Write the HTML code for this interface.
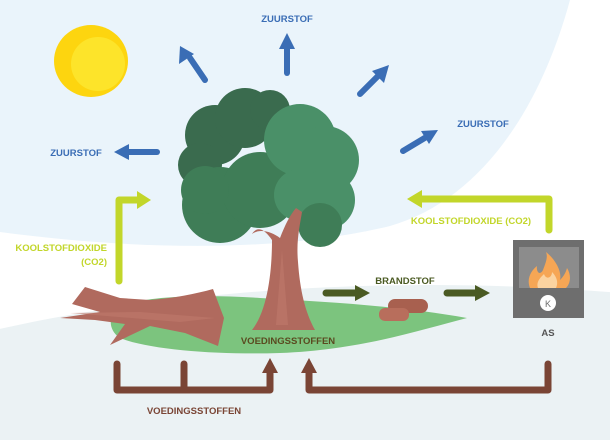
<!DOCTYPE html>
<html><head><meta charset="utf-8"><style>
html,body{margin:0;padding:0;background:#fff;width:610px;height:440px;overflow:hidden}
svg{display:block;position:absolute;left:0;top:0}
text{font-family:"Liberation Sans",sans-serif;font-weight:bold;font-size:9.5px}
</style></head><body>
<svg width="610" height="440" viewBox="0 0 610 440">
<rect width="610" height="440" fill="#ffffff"/>
<path d="M0,0 L570,0 C540,110 480,200 390,226 C270,255 120,248 0,232 Z" fill="#eaf4fb"/>
<ellipse cx="430" cy="565" rx="800" ry="280" fill="#ebf2f4"/>
<!-- sun -->
<ellipse cx="91" cy="61" rx="37" ry="36" fill="#fdd50f"/>
<ellipse cx="98" cy="64" rx="27" ry="27" fill="#fde42a"/>
<!-- grass -->
<path d="M118,308 C140,296 200,294 260,298 C330,302 400,306 467,318 C420,330 360,350 280,353 C220,355 150,350 120,338 C108,330 108,316 118,308 Z" fill="#7cc47e"/>
<!-- fallen log -->
<path d="M85,287 L120,298 L150,300 C175,298 195,294 213,289 L224,318 L218,346 L185,333 L150,326 L110,345 L125,324 L95,320 L60,318 L100,312 L72,304 Z" fill="#b06a5e"/>
<path d="M70,313 L140,312 L215,318 L180,322 Z" fill="#c07a6c" opacity=".6"/>
<!-- small logs -->
<rect x="388" y="299" width="40" height="14" rx="7" fill="#a8604f"/>
<rect x="379" y="308" width="30" height="13" rx="6" fill="#b86e5c"/>
<!-- canopy -->
<g>
<circle cx="215" cy="135" r="30" fill="#3a6b4e"/>
<circle cx="245" cy="118" r="30" fill="#3a6b4e"/>
<circle cx="200" cy="165" r="22" fill="#3a6b4e"/>
<circle cx="270" cy="110" r="20" fill="#3a6b4e"/>
<circle cx="220" cy="205" r="38" fill="#3f7d57"/>
<circle cx="260" cy="190" r="38" fill="#3f7d57"/>
<circle cx="205" cy="190" r="24" fill="#3f7d57"/>
<circle cx="300" cy="140" r="36" fill="#4a9068"/>
<circle cx="325" cy="160" r="34" fill="#4a9068"/>
<circle cx="325" cy="200" r="30" fill="#4a9068"/>
<circle cx="300" cy="195" r="26" fill="#4a9068"/>
<circle cx="320" cy="225" r="22" fill="#3f7d57"/>
</g>
<!-- trunk -->
<path d="M252,330 C268,310 272,270 272,240 C265,230 258,225 252,234 C260,228 272,232 280,238 C285,225 290,215 296,208 L302,212 C300,225 296,240 298,262 C300,290 305,312 315,330 Z" fill="#b06a5e"/>
<path d="M282,250 L288,325 L276,325 Z" fill="#c07a6c" opacity=".6"/>
<!-- stove -->
<rect x="513" y="240" width="71" height="78" fill="#6e6e6e"/>
<rect x="519" y="247" width="60" height="41" fill="#8c8c8c"/>
<path d="M530,288 C526,278 532,270 537,266 C536,272 540,276 543,270 C546,262 548,257 546,252 C556,260 562,272 560,280 C564,276 566,272 567,268 C572,276 570,284 566,288 Z" fill="#f6a655"/>
<path d="M538,288 C536,282 540,278 544,274 C546,280 552,278 552,272 C558,278 558,284 556,288 Z" fill="#fbd3a0"/>
<circle cx="548" cy="303" r="8" fill="#ffffff"/>
<text x="548" y="307" text-anchor="middle" style="font-size:9px;font-weight:normal" fill="#6e6e6e">K</text>
<!-- blue arrows -->
<g stroke="#3a6db5" stroke-width="6" stroke-linecap="round" fill="#3a6db5">
<line x1="287" y1="73" x2="287" y2="48"/>
<line x1="205" y1="80" x2="190" y2="58"/>
<line x1="360" y1="94" x2="380" y2="74"/>
<line x1="403" y1="151" x2="428" y2="136"/>
<line x1="157" y1="152" x2="128" y2="152"/>
</g>
<g fill="#3a6db5">
<polygon points="287,33 279,49 295,49"/>
<polygon points="180,46 179,64 194,54"/>
<polygon points="389,65 372,71 384,83"/>
<polygon points="438,130 421,131 429,144"/>
<polygon points="114,152 129,144 129,160"/>
</g>
<!-- lime arrows -->
<g fill="none" stroke="#c2d62a" stroke-width="7" stroke-linecap="round" stroke-linejoin="round">
<path d="M119,281 L119,200 L138,200"/>
<path d="M549,230 L549,199 L422,199"/>
</g>
<polygon points="151,200 137,191 137,209" fill="#c2d62a"/>
<polygon points="407,199 422,190 422,208" fill="#c2d62a"/>
<!-- olive arrows -->
<g stroke="#4a5a22" stroke-width="7" stroke-linecap="round">
<line x1="326" y1="293" x2="355" y2="293"/>
<line x1="447" y1="293" x2="475" y2="293"/>
</g>
<polygon points="370,293 355,285 355,301" fill="#4a5a22"/>
<polygon points="490,293 475,285 475,301" fill="#4a5a22"/>
<!-- brown arrows -->
<g fill="none" stroke="#7a4535" stroke-width="7" stroke-linecap="round" stroke-linejoin="round">
<path d="M117,364 L117,390 L270,390 L270,372"/>
<path d="M184,364 L184,390"/>
<path d="M548,364 L548,390 L309,390 L309,372"/>
</g>
<polygon points="270,358 262,373 278,373" fill="#7a4535"/>
<polygon points="309,358 301,373 317,373" fill="#7a4535"/>
<!-- labels -->
<text x="287" y="22" text-anchor="middle" fill="#3a6db5">ZUURSTOF</text>
<text x="483" y="127" text-anchor="middle" fill="#3a6db5">ZUURSTOF</text>
<text x="76" y="156" text-anchor="middle" fill="#3a6db5">ZUURSTOF</text>
<text x="107" y="251" text-anchor="end" fill="#c2d62a">KOOLSTOFDIOXIDE</text>
<text x="107" y="265" text-anchor="end" fill="#c2d62a">(CO2)</text>
<text x="471" y="224" text-anchor="middle" fill="#c2d62a">KOOLSTOFDIOXIDE (CO2)</text>
<text x="405" y="284" text-anchor="middle" fill="#4a5a22">BRANDSTOF</text>
<text x="288" y="344" text-anchor="middle" fill="#5a4a20">VOEDINGSSTOFFEN</text>
<text x="194" y="414" text-anchor="middle" fill="#7a4535">VOEDINGSSTOFFEN</text>
<text x="548" y="336" text-anchor="middle" fill="#555">AS</text>
</svg>
</body></html>
